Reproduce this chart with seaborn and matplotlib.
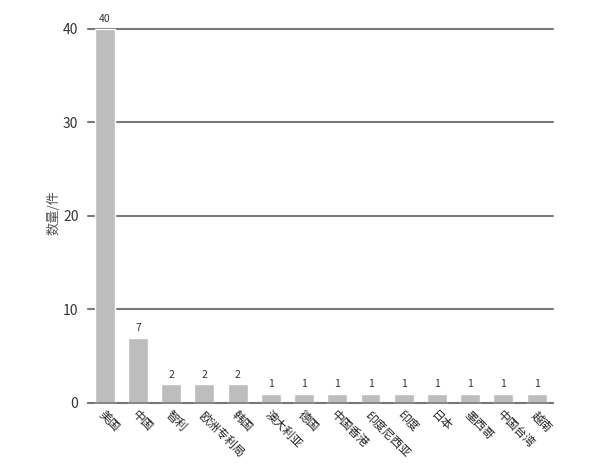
import pandas as pd
import seaborn as sns
from matplotlib import pyplot as plt

# counts per country / office
countries = ['美国', '中国', '智利', '欧洲专利局', '韩国', '澳大利亚', '德国',
             '中国香港', '印度尼西亚', '印度', '日本', '墨西哥', '中国台湾', '越南']
counts = [40, 7, 2, 2, 2, 1, 1, 1, 1, 1, 1, 1, 1, 1]
yticks = [0, 10, 20, 30, 40]

df = pd.DataFrame({'country': countries, 'count': counts})

sns.set_style('white')
plt.rcParams['font.family'] = ['Noto Sans CJK SC', 'DejaVu Sans']

fig = plt.figure(figsize=(6, 4.63), dpi=100)
ax = fig.add_axes([0.147, 0.1296, 0.775, 0.8078])

sns.barplot(data=df, x='country', y='count', color='#bdbdbd', saturation=1,
            width=0.6, ax=ax)

ax.set_xlim(-0.5, len(countries) - 0.5)
ax.set_ylim(0, 40)
ax.set_yticks(yticks)
ax.set_axisbelow(True)
ax.yaxis.grid(True, color='#7a7a7a', linewidth=1.5)
for gl in ax.get_ygridlines():
    gl.set_clip_on(False)  # keep the 40 line full width at the top edge
for p in ax.patches:
    p.set_clip_on(False)

for s in ['top', 'right', 'left']:
    ax.spines[s].set_visible(False)
ax.spines['bottom'].set_color('#777777')
ax.spines['bottom'].set_linewidth(1.2)

# y ticks: short dashes outside
ax.tick_params(axis='y', direction='out', length=4, width=1, color='#777777',
               labelsize=10, labelcolor='#333333', pad=3)

# x ticks between bars
ax.set_xticks([i - 0.5 for i in range(len(countries) + 1)], minor=True)
ax.tick_params(axis='x', which='minor', direction='out', length=3, width=1, color='#777777')
ax.tick_params(axis='x', which='major', length=0)
ax.set_xticks(range(len(countries)))
ax.set_xticklabels([])
for i, name in enumerate(countries):
    ax.text(i + 0.02, -0.6, name, rotation=-45, rotation_mode='anchor',
            ha='left', va='top', fontsize=8.5, color='#222222', clip_on=False)

# value labels
for i, v in enumerate(counts):
    ax.text(i, v + 0.5, str(v), ha='center', va='bottom', fontsize=7.5,
            color='#333333', clip_on=False)

ax.set_xlabel('')
ax.set_ylabel('数量/件', fontsize=9.5, color='#555555')
ax.yaxis.set_label_coords(-0.06, 0.51)

plt.savefig('out.png', dpi=100)
